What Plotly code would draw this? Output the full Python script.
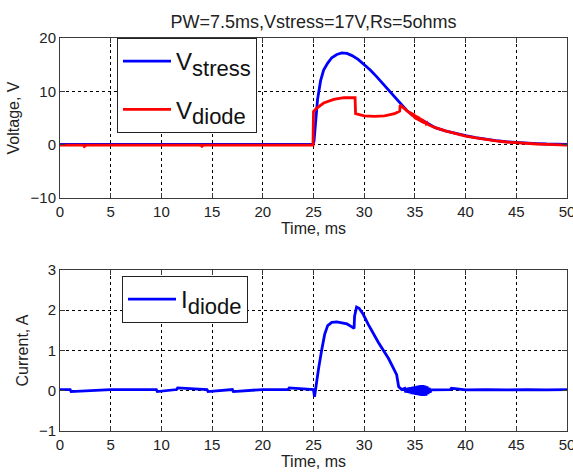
import plotly.graph_objects as go

# ---------------- data ----------------
t_stress = [0, 2.0, 5.0, 8.0, 11.0, 14.0, 17.0, 20.0, 23.0, 24.95, 25.05, 25.2, 25.4, 25.7, 26.0, 26.4,
            26.8, 27.3, 27.8, 28.3, 28.8, 29.4, 30.0, 30.6, 31.2, 31.8, 32.4, 33.0, 33.6,
            34.2, 34.8, 35.4, 36.0, 36.5, 37.0, 38.0, 39.0, 40.0, 41.0, 42.0, 43.0, 44.0,
            45.0, 46.0, 47.0, 48.0, 49.0, 50.0]
v_stress = [0.05, 0.05, 0.05, 0.05, 0.05, 0.05, 0.05, 0.05, 0.05, 0.05, 0.6, 4.0, 8.5, 12.0, 14.0, 15.3,
            16.3, 16.9, 17.2, 17.1, 16.7, 16.0, 15.0, 14.0, 12.8, 11.5, 10.2, 8.8, 7.5,
            6.4, 5.5, 4.8, 4.3, 3.7, 3.2, 2.6, 2.1, 1.7, 1.3, 1.0, 0.75, 0.55,
            0.4, 0.3, 0.2, 0.12, 0.08, 0.05]

t_diode = [0, 2.3, 2.4, 2.6, 5.0, 9.0, 13.9, 14.0, 14.1, 18.0, 22.0, 24.95, 25.0, 25.3, 26.0, 27.0,
           28.0, 29.1, 29.15, 29.5, 30.0, 31.0, 32.0, 33.0, 33.5, 33.55, 34.0,
           34.5, 34.6, 34.65, 34.7, 34.75, 34.8, 34.85, 34.9, 34.95, 35.0, 35.05, 35.1,
           35.15, 35.2, 35.25, 35.3, 35.35, 35.4, 35.45, 35.5, 35.55, 35.6, 35.65, 35.7,
           35.75, 35.8, 35.85, 35.9, 35.95, 36.0, 36.1, 36.2, 36.3, 36.5, 37.0, 38.0, 39.0, 40.0,
           41.0, 42.0, 43.0, 44.0, 45.0, 46.0, 47.0, 48.0, 49.0, 50.0]
v_diode = [-0.1, -0.1, -0.35, -0.1, -0.1, -0.1, -0.1, -0.3, -0.1, -0.1, -0.1, -0.1, 6.2, 6.8, 7.8, 8.5,
           8.8, 8.8, 5.8, 5.6, 5.4, 5.3, 5.4, 5.8, 6.3, 7.4, 6.6,
           5.9, 6.1, 5.5, 6.0, 5.3, 5.9, 5.2, 5.8, 5.0, 5.6, 4.8, 5.5,
           4.7, 5.4, 4.6, 5.3, 4.5, 5.2, 4.4, 5.0, 4.3, 4.9, 4.2, 4.8,
           4.1, 4.7, 4.0, 4.5, 3.9, 4.3, 3.9, 4.1, 3.8, 3.6, 3.2, 2.6, 2.1, 1.6,
           1.25, 0.95, 0.7, 0.5, 0.35, 0.22, 0.12, 0.05, 0.0, -0.1]

t_cur = [0, 1.0, 1.1, 5.0, 9.5, 9.6, 11.5, 11.6, 14.5, 14.6, 17.0, 17.1, 20.0, 22.5, 22.6,
         25.0, 25.1, 25.2, 25.5, 25.8, 26.1, 26.4, 26.8, 27.3, 27.8, 28.3, 28.7, 29.0,
         29.05, 29.25, 29.5, 29.9, 30.4, 30.9, 31.4, 31.9, 32.4, 32.9, 33.2, 33.4, 33.7,
         34.0, 34.1, 34.2, 34.3, 34.4, 34.5, 34.6, 34.7, 34.8, 34.9, 35.0, 35.1, 35.2,
         35.3, 35.4, 35.5, 35.6, 35.7, 35.8, 35.9, 36.0, 36.1, 36.2, 36.3, 36.4, 36.5,
         36.6, 37.5, 38.5, 38.6, 40.0, 42.0, 44.0, 46.0, 48.0, 50.0]
i_cur = [0.03, 0.03, -0.02, 0.03, 0.03, -0.02, 0.03, 0.07, 0.03, -0.02, 0.03, -0.02, 0.03, 0.03, 0.07,
         0.03, -0.15, 0.05, 0.55, 1.0, 1.4, 1.62, 1.7, 1.71, 1.69, 1.66, 1.6, 1.55,
         1.85, 2.08, 2.05, 1.9, 1.65, 1.42, 1.2, 1.0, 0.8, 0.55, 0.4, 0.1, 0.03,
         0.06, -0.04, 0.07, -0.05, 0.08, -0.06, 0.09, -0.08, 0.1, -0.09, 0.11, -0.1, 0.12,
         -0.11, 0.13, -0.12, 0.14, -0.13, 0.14, -0.13, 0.13, -0.12, 0.11, -0.08, 0.07, -0.04,
         0.02, 0.03, 0.03, 0.06, 0.02, 0.03, 0.02, 0.03, 0.02, 0.03]

x_ticks = [0, 5, 10, 15, 20, 25, 30, 35, 40, 45, 50]
v_ticks = [-10, 0, 10, 20]
i_ticks = [-1, 0, 1, 2, 3]

title_text = "PW=7.5ms,Vstress=17V,Rs=5ohms"
x_title = "Time, ms"
v_title = "Voltage, V"
i_title = "Current, A"

# ---------------- figure ----------------
FONT = "Liberation Sans, Arial, sans-serif"
SUB = "<sub><span style='font-size:22px'>%s</span></sub>"
fig = go.Figure()
fig.add_trace(go.Scatter(x=t_stress, y=v_stress, mode="lines", line=dict(color="#0000ff", width=2.8),
                         name="V" + SUB % "stress",
                         xaxis="x", yaxis="y", legend="legend", legendgroup="a"))
fig.add_trace(go.Scatter(x=t_diode, y=v_diode, mode="lines", line=dict(color="#ff0000", width=2.8),
                         name="V" + SUB % "diode",
                         xaxis="x", yaxis="y", legend="legend", legendgroup="b"))
fig.add_trace(go.Scatter(x=t_cur, y=i_cur, mode="lines", line=dict(color="#0000ff", width=2.8),
                         name="I" + SUB % "diode",
                         xaxis="x2", yaxis="y2", legend="legend2"))

axis_common = dict(showline=True, linecolor="#3a3a3a", linewidth=1, mirror="ticks",
                   ticks="inside", ticklen=5, tickcolor="#3a3a3a", automargin=False,
                   showgrid=True, gridcolor="#000000", griddash="dot", gridwidth=1,
                   zeroline=False, tickfont=dict(size=15, color="#222"),
                   ticklabeloverflow="allow",
                   title_font=dict(size=16, color="#222"))

fig.update_layout(
    template="none",
    width=573, height=476,
    margin=dict(l=60, r=6, t=38, b=45, autoexpand=False),
    paper_bgcolor="white", plot_bgcolor="white",
    font=dict(family=FONT, color="#222"),
    title=dict(text=title_text, x=(60 + 567) / 2 / 573, xanchor="center", y=1 - 22 / 476,
               yanchor="middle", font=dict(size=18, color="#222")),
    xaxis=dict(domain=[0, 1], range=[0, 50], tickvals=x_ticks, anchor="y",
               title=dict(text=x_title, standoff=2), **axis_common),
    yaxis=dict(domain=[0.5929, 1], range=[-10, 20], tickvals=v_ticks, anchor="x",
               title=dict(text=v_title, standoff=6), **axis_common),
    xaxis2=dict(domain=[0, 1], range=[0, 50], tickvals=x_ticks, anchor="y2",
                title=dict(text=x_title, standoff=2), **axis_common),
    yaxis2=dict(domain=[0, 0.4097], range=[-1, 3], tickvals=i_ticks, anchor="x2",
                title=dict(text=i_title, standoff=6), **axis_common),
    legend=dict(x=(117 - 60) / 507, y=1, xanchor="left", yanchor="top",
                bgcolor="white", bordercolor="#222", borderwidth=1,
                font=dict(size=24, color="#111"), itemwidth=48,
                traceorder="grouped", tracegroupgap=14),
    legend2=dict(x=(122 - 60) / 507, y=(431 - 276) / 393, xanchor="left", yanchor="top",
                 bgcolor="white", bordercolor="#222", borderwidth=1,
                 font=dict(size=24, color="#111"), itemwidth=48),
    showlegend=True,
)

fig.write_html("out.html", config={"displayModeBar": False},
               post_script="document.body.style.margin='0';document.body.style.overflow='hidden';")
